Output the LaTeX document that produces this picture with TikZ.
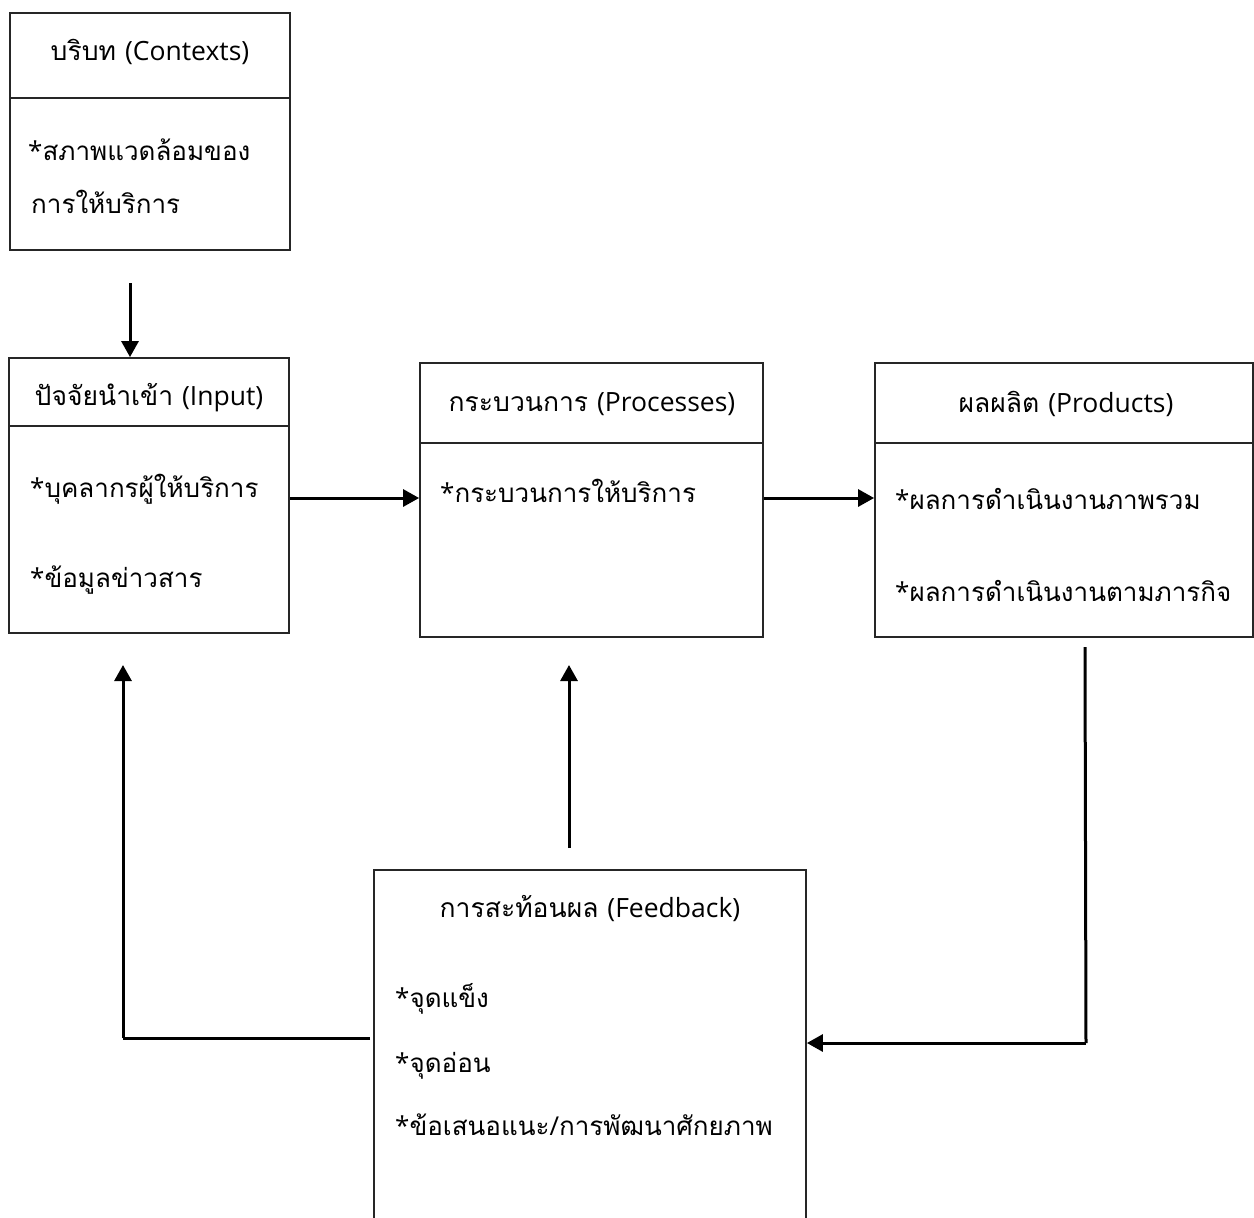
\documentclass[tikz,border=0pt]{standalone}
\usepackage{fontspec}
\setmainfont[Script=Thai]{Loma}
\newfontfamily\latf{Open Sans}
\usetikzlibrary{arrows.meta}
\begin{document}
\begin{tikzpicture}[x=1pt,y=-1pt,
  box/.style={draw=black!85, line width=1.8pt, rectangle, inner sep=0pt},
  divline/.style={draw=black!85, line width=1.8pt},
  ttl/.style={font=\fontsize{26.5}{30}\selectfont, inner sep=0pt, anchor=base},
  txt/.style={font=\fontsize{26}{30}\selectfont, inner sep=0pt, anchor=base west},
  arr/.style={line width=3pt, -{Triangle[length=16pt,width=17pt]}},
  ln/.style={line width=3pt}]
\useasboundingbox (0,0) rectangle (1254,1218);
\clip (0,0) rectangle (1254,1218);
% boxes
\node[box, minimum width=280pt, minimum height=237pt] (ctx) at (150,131.5) {};
\node[box, minimum width=280pt, minimum height=275pt] (inp) at (149,495.5) {};
\node[box, minimum width=343pt, minimum height=274pt] (proc) at (591.5,500) {};
\node[box, minimum width=378pt, minimum height=274pt] (prod) at (1064,500) {};
\node[box, minimum width=432pt, minimum height=360pt] (fb) at (590,1050) {};
% dividers
\draw[divline] (ctx.west |- 0,98) -- (ctx.east |- 0,98);
\draw[divline] (inp.west |- 0,426) -- (inp.east |- 0,426);
\draw[divline] (proc.west |- 0,443) -- (proc.east |- 0,443);
\draw[divline] (prod.west |- 0,443) -- (prod.east |- 0,443);
% titles
\node[ttl] (ctxt) at (150,60) {บริบท {\latf (Contexts)}};
\node[ttl] (inpt) at (149,405) {ปัจจัยนำเข้า {\latf (Input)}};
\node[ttl] (proct) at (592,411) {กระบวนการ {\latf (Processes)}};
\node[ttl] (prodt) at (1066,412) {ผลผลิต {\latf (Products)}};
\node[ttl] (fbt) at (590,917) {การสะท้อนผล {\latf (Feedback)}};
% body texts
\node[txt] (c1) at (28,160) {{\latf *}สภาพแวดล้อมของ};
\node[txt] (c2) at (31,213) {การให้บริการ};
\node[txt] (i1) at (30,497) {{\latf *}บุคลากรผู้ให้บริการ};
\node[txt] (i2) at (30,587) {{\latf *}ข้อมูลข่าวสาร};
\node[txt] (p1) at (440,502) {{\latf *}กระบวนการให้บริการ};
\node[txt] (r1) at (895,509) {{\latf *}ผลการดำเนินงานภาพรวม};
\node[txt] (r2) at (895,601) {{\latf *}ผลการดำเนินงานตามภารกิจ};
\node[txt] (f1) at (395,1007) {{\latf *}จุดแข็ง};
\node[txt] (f2) at (395,1072) {{\latf *}จุดอ่อน};
\node[txt] (f3) at (395,1135) {{\latf *}ข้อเสนอแนะ{\latf /}การพัฒนาศักยภาพ};
% connectors
\coordinate (a1) at (130,283);
\draw[arr] (a1) -- (a1 |- inp.north);
\draw[arr] (inp.east |- 0,498) -- (proc.west |- 0,498);
\draw[arr] (proc.east |- 0,498) -- (prod.west |- 0,498);
\coordinate (b1) at (569,848);
\coordinate (b2) at (569,665);
\draw[arr] (b1) -- (b2);
\coordinate (l1) at (370,1038);
\coordinate (l2) at (123,1038);
\coordinate (l3) at (123,665);
\draw[ln] (l1) -- (l2);
\draw[arr] (l2) -- (l3);
\coordinate (r0) at (1085,647);
\coordinate (rc) at (1086,1043);
\draw[ln] (r0) -- (rc);
\draw[arr] (rc) -- (fb.east |- rc);
\end{tikzpicture}
\end{document}
